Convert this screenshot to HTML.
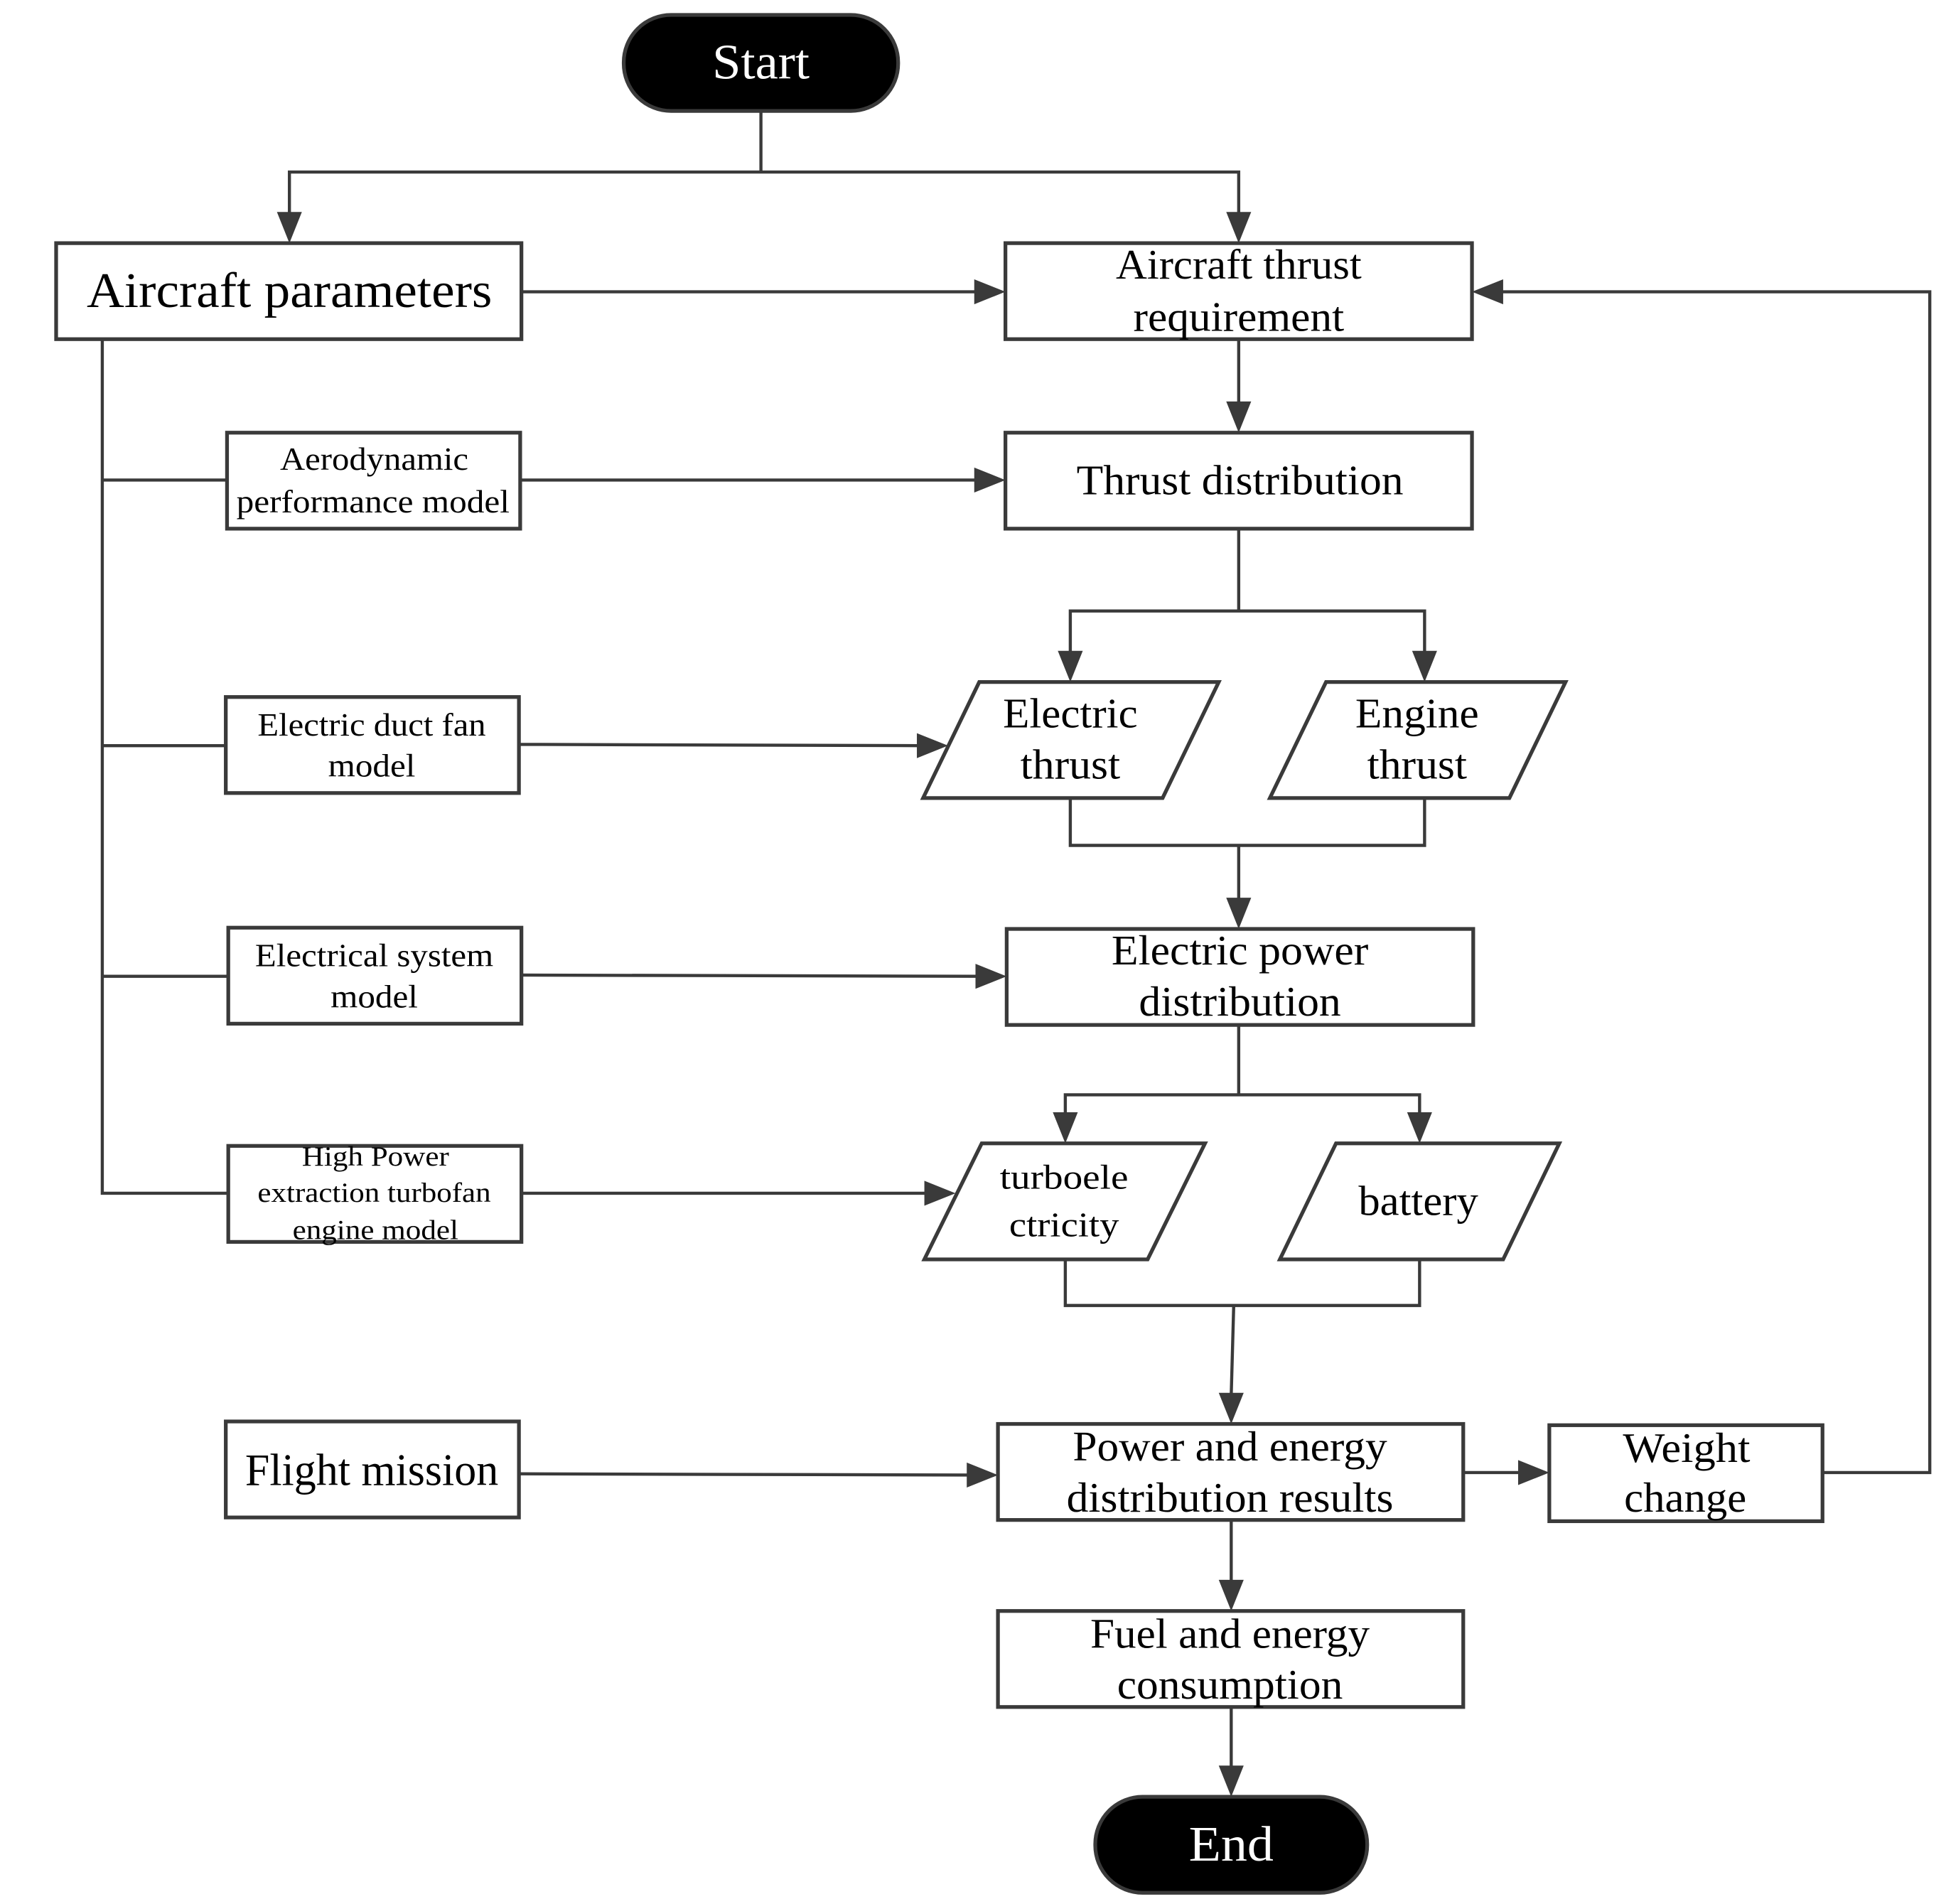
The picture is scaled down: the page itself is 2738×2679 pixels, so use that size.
<!DOCTYPE html>
<html><head><meta charset="utf-8"><style>
html,body{margin:0;padding:0;background:#fff;}
svg{display:block;}
text{font-family:"Liberation Serif",serif;fill:#000;}
</style></head><body>
<svg width="2738" height="2679" viewBox="0 0 1560 1527" preserveAspectRatio="none" xmlns="http://www.w3.org/2000/svg">
<defs>
<marker id="a" markerWidth="10" markerHeight="8" refX="10" refY="4" orient="auto" markerUnits="userSpaceOnUse" viewBox="0 0 10 8">
</marker>
</defs>
<g stroke="#3a3a3a" stroke-width="2.5" fill="none">
<!-- start fan-out -->
<polyline points="610,89 610,138"/>
<polyline points="232,172 232,138 993,138 993,172"/>
<!-- aircraft params -> thrust req -->
<line x1="418" y1="234" x2="784" y2="234"/>
<!-- feedback -->
<polyline points="1461,1181 1547,1181 1547,234 1202,234"/>
<line x1="993" y1="272" x2="993" y2="324"/>
<!-- left bus -->
<polyline points="82,272 82,957 183,957"/>
<line x1="82" y1="385" x2="182" y2="385"/>
<line x1="82" y1="598" x2="181" y2="598"/>
<line x1="82" y1="783" x2="183" y2="783"/>
<!-- model arrows -->
<line x1="417" y1="385" x2="784" y2="385"/>
<line x1="416" y1="597" x2="738" y2="598"/>
<line x1="418" y1="782" x2="785" y2="783"/>
<line x1="418" y1="957" x2="744" y2="957"/>
<line x1="416" y1="1182" x2="778" y2="1183"/>
<line x1="1173" y1="1181" x2="1220" y2="1181"/>
<!-- thrust dist split -->
<polyline points="993,424 993,490"/>
<polyline points="858,524 858,490 1142,490 1142,524"/>
<polyline points="858,640 858,678 1142,678 1142,640"/>
<line x1="993" y1="678" x2="993" y2="722"/>
<!-- power dist split -->
<line x1="993" y1="822" x2="993" y2="878"/>
<polyline points="854,894 854,878 1138,878 1138,894"/>
<polyline points="854,1010 854,1047 1138,1047 1138,1010"/>
<line x1="989" y1="1047" x2="987" y2="1119"/>
<line x1="987" y1="1219" x2="987" y2="1269"/>
<line x1="987" y1="1369" x2="987" y2="1418"/>
</g>
<!-- arrowheads -->
<g fill="#3a3a3a">
<polygon points="232,195 222,170 242,170"/>
<polygon points="993,195 983,170 1003,170"/>
<polygon points="806,234 781,224 781,244"/>
<polygon points="1180,234 1205,224 1205,244"/>
<polygon points="993,347 983,322 1003,322"/>
<polygon points="806,385 781,375 781,395"/>
<polygon points="858,547 848,522 868,522"/>
<polygon points="1142,547 1132,522 1152,522"/>
<polygon points="760,598 735,588 735,608"/>
<polygon points="993,745 983,720 1003,720"/>
<polygon points="807,783 782,773 782,793"/>
<polygon points="854,917 844,892 864,892"/>
<polygon points="1138,917 1128,892 1148,892"/>
<polygon points="766,957 741,947 741,967"/>
<polygon points="987,1142 977,1117 997,1117"/>
<polygon points="800,1183 775,1173 775,1193"/>
<polygon points="1242,1181 1217,1171 1217,1191"/>
<polygon points="987,1292 977,1267 997,1267"/>
<polygon points="987,1441 977,1416 997,1416"/>
</g>
<!-- shapes -->
<g stroke="#3a3a3a" stroke-width="3" fill="#fff">
<rect x="500" y="12" width="220" height="77" rx="38" fill="#000"/>
<rect x="878" y="1441" width="218" height="77" rx="38" fill="#000"/>
<rect x="45" y="195" width="373" height="77"/>
<rect x="806" y="195" width="374" height="77"/>
<rect x="806" y="347" width="374" height="77"/>
<rect x="182" y="347" width="235" height="77"/>
<rect x="181" y="559" width="235" height="77"/>
<rect x="807" y="745" width="374" height="77"/>
<rect x="183" y="744" width="235" height="77"/>
<rect x="183" y="919" width="235" height="77"/>
<rect x="800" y="1142" width="373" height="77"/>
<rect x="181" y="1140" width="235" height="77"/>
<rect x="1242" y="1143" width="219" height="77"/>
<rect x="800" y="1292" width="373" height="77"/>
<polygon points="785,547 977,547 932,640 740,640"/>
<polygon points="1063,547 1255,547 1210,640 1018,640"/>
<polygon points="787,917 966,917 920,1010 741,1010"/>
<polygon points="1071,917 1250,917 1205,1010 1026,1010"/>
</g>
<!-- text -->
<g text-anchor="middle" dominant-baseline="central" lengthAdjust="spacingAndGlyphs">
<text x="610" y="50" font-size="40" textLength="78" lengthAdjust="spacingAndGlyphs" style="fill:#fff">Start</text>
<text x="987" y="1479" font-size="40" textLength="68" lengthAdjust="spacingAndGlyphs" style="fill:#fff">End</text>
<text x="232" y="233" font-size="40" textLength="325" lengthAdjust="spacingAndGlyphs">Aircraft parameters</text>
<text x="993" y="212" font-size="34" textLength="197" lengthAdjust="spacingAndGlyphs">Aircraft thrust</text>
<text x="993" y="254" font-size="34" textLength="169" lengthAdjust="spacingAndGlyphs">requirement</text>
<text x="994" y="385" font-size="34" textLength="262" lengthAdjust="spacingAndGlyphs">Thrust distribution</text>
<text x="300" y="368" font-size="26" textLength="151" lengthAdjust="spacingAndGlyphs">Aerodynamic</text>
<text x="299" y="402" font-size="26" textLength="219" lengthAdjust="spacingAndGlyphs">performance model</text>
<text x="858" y="572" font-size="34" textLength="108" lengthAdjust="spacingAndGlyphs">Electric</text>
<text x="858" y="613" font-size="34" textLength="80" lengthAdjust="spacingAndGlyphs">thrust</text>
<text x="1136" y="572" font-size="34" textLength="99" lengthAdjust="spacingAndGlyphs">Engine</text>
<text x="1136" y="613" font-size="34" textLength="80" lengthAdjust="spacingAndGlyphs">thrust</text>
<text x="298" y="581" font-size="26" textLength="183" lengthAdjust="spacingAndGlyphs">Electric duct fan</text>
<text x="298" y="614" font-size="26" textLength="70" lengthAdjust="spacingAndGlyphs">model</text>
<text x="994" y="762" font-size="34" textLength="206" lengthAdjust="spacingAndGlyphs">Electric power</text>
<text x="994" y="803" font-size="34" textLength="162" lengthAdjust="spacingAndGlyphs">distribution</text>
<text x="300" y="766" font-size="26" textLength="191" lengthAdjust="spacingAndGlyphs">Electrical system</text>
<text x="300" y="799" font-size="26" textLength="70" lengthAdjust="spacingAndGlyphs">model</text>
<text x="301" y="928" font-size="22" textLength="118" lengthAdjust="spacingAndGlyphs">High Power</text>
<text x="300" y="957" font-size="22" textLength="187" lengthAdjust="spacingAndGlyphs">extraction turbofan</text>
<text x="301" y="987" font-size="22" textLength="133" lengthAdjust="spacingAndGlyphs">engine model</text>
<text x="853" y="944" font-size="28" textLength="103" lengthAdjust="spacingAndGlyphs">turboele</text>
<text x="853" y="982" font-size="28" textLength="88" lengthAdjust="spacingAndGlyphs">ctricity</text>
<text x="1137" y="963" font-size="34" textLength="96" lengthAdjust="spacingAndGlyphs">battery</text>
<text x="298" y="1179" font-size="36" textLength="203" lengthAdjust="spacingAndGlyphs">Flight mission</text>
<text x="986" y="1160" font-size="34" textLength="252" lengthAdjust="spacingAndGlyphs">Power and energy</text>
<text x="986" y="1201" font-size="34" textLength="262" lengthAdjust="spacingAndGlyphs">distribution results</text>
<text x="1352" y="1161" font-size="34" textLength="102" lengthAdjust="spacingAndGlyphs">Weight</text>
<text x="1351" y="1201" font-size="34" textLength="98" lengthAdjust="spacingAndGlyphs">change</text>
<text x="986" y="1310" font-size="34" textLength="224" lengthAdjust="spacingAndGlyphs">Fuel and energy</text>
<text x="986" y="1351" font-size="34" textLength="181" lengthAdjust="spacingAndGlyphs">consumption</text>
</g>
</svg>
</body></html>
